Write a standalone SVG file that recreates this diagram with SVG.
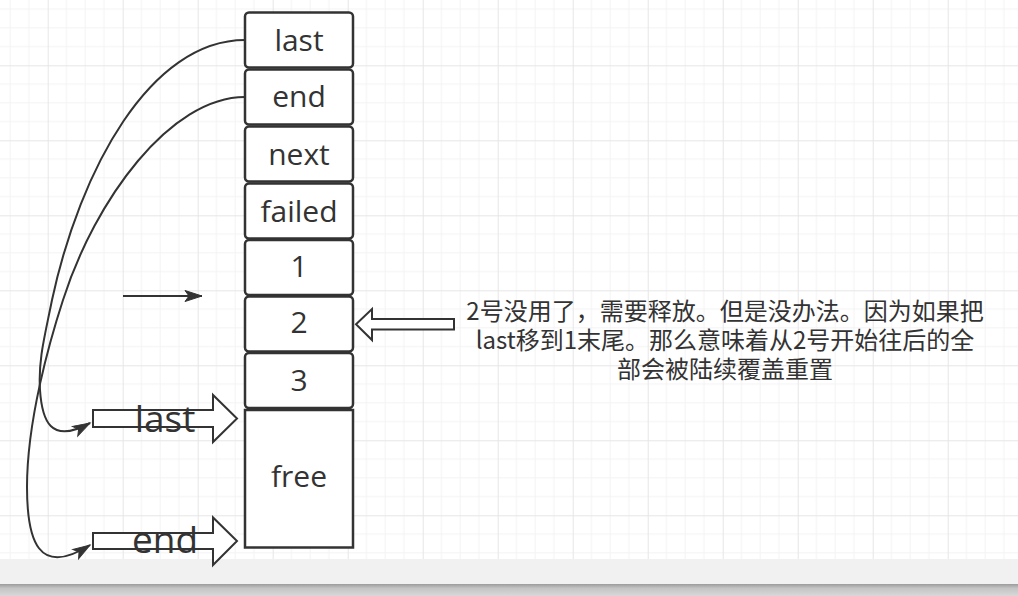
<svg xmlns="http://www.w3.org/2000/svg" width="1018" height="596" viewBox="0 0 1018 596">
  <defs>
    <pattern id="grid" x="47.7" y="65.3" width="75" height="75" patternUnits="userSpaceOnUse">
      <rect width="75" height="75" fill="#ffffff"/>
      <rect x="18.25" y="0" width="1" height="75" fill="#f3f3f3"/>
      <rect x="37" y="0" width="1" height="75" fill="#f3f3f3"/>
      <rect x="55.75" y="0" width="1" height="75" fill="#f3f3f3"/>
      <rect x="0" y="18.25" width="75" height="1" fill="#f3f3f3"/>
      <rect x="0" y="37" width="75" height="1" fill="#f3f3f3"/>
      <rect x="0" y="55.75" width="75" height="1" fill="#f3f3f3"/>
      <rect x="0" y="0" width="1" height="75" fill="#e6e6e6"/>
      <rect x="0" y="0" width="75" height="1" fill="#e6e6e6"/>
    </pattern>
    <linearGradient id="shade" x1="0" y1="0" x2="0" y2="1">
      <stop offset="0" stop-color="#9c9c9c"/>
      <stop offset="0.35" stop-color="#c4c4c4"/>
      <stop offset="1" stop-color="#d8d8d8"/>
    </linearGradient>
    <marker id="arrow" markerUnits="userSpaceOnUse" markerWidth="20" markerHeight="12" refX="17" refY="5.5" orient="auto" overflow="visible">
      <path d="M0,0 L17,5.5 L0,11 L4,5.5 Z" fill="#333333" stroke="#333333" stroke-width="1"/>
    </marker>
    <style>
      .box { fill: #ffffff; stroke: #333333; stroke-width: 2.5; }
      .lbl { font-family: "Open Sans", "Noto Sans", sans-serif; font-size: 30px; fill: #333333; text-anchor: middle; }
      .big { font-family: "Open Sans", "Noto Sans", sans-serif; font-size: 37px; fill: #333333; text-anchor: middle; }
      .note { font-family: "Noto Sans CJK SC", "Noto Sans", sans-serif; font-size: 24px; fill: #333333; text-anchor: middle; }
      .blk { fill: #ffffff; stroke: #333333; stroke-width: 2; stroke-linejoin: miter; }
      .edge { fill: none; stroke: #333333; stroke-width: 2; }
    </style>
  </defs>

  <rect x="0" y="0" width="1018" height="559" fill="url(#grid)"/>
  <rect x="0" y="559" width="1018" height="25" fill="#f1f1f1"/>
  <rect x="0" y="584" width="1018" height="12" fill="url(#shade)"/>

  <g id="connectors">
    <path class="edge" d="M245,40 C150,40 80,170 52,300 C45,335 38,360 40,390 C42,420 50,445 90,423" marker-end="url(#arrow)"/>
    <path class="edge" d="M245,97 C170,97 95,200 63,300 C50,340 27,420 27,487 C27,540 38,578 90,545" marker-end="url(#arrow)"/>
    <path class="edge" d="M123,296 L202,296" marker-end="url(#arrow)"/>
  </g>

  <g id="node-last">
    <rect class="box" x="245" y="12.5" width="108" height="55" rx="4"/>
    <text class="lbl" x="299" y="50.7">last</text>
  </g>
  <g id="node-end">
    <rect class="box" x="245" y="69.5" width="108" height="55" rx="4"/>
    <text class="lbl" x="299" y="106.7">end</text>
  </g>
  <g id="node-next">
    <rect class="box" x="245" y="126.5" width="108" height="55" rx="4"/>
    <text class="lbl" x="299" y="165">next</text>
  </g>
  <g id="node-failed">
    <rect class="box" x="245" y="183.5" width="108" height="55" rx="4"/>
    <text class="lbl" x="299" y="221.7">failed</text>
  </g>
  <g id="node-1">
    <rect class="box" x="245" y="240" width="108" height="55" rx="4"/>
    <text class="lbl" x="299" y="277.3">1</text>
  </g>
  <g id="node-2">
    <rect class="box" x="245" y="296.5" width="108" height="55" rx="4"/>
    <text class="lbl" x="299" y="333.3">2</text>
  </g>
  <g id="node-3">
    <rect class="box" x="245" y="353" width="108" height="55" rx="4"/>
    <text class="lbl" x="299" y="391">3</text>
  </g>
  <g id="node-free">
    <rect class="box" x="245" y="410" width="108" height="137.5"/>
    <text class="lbl" x="299" y="486.7">free</text>
  </g>

  <g id="arrow-last">
    <polygon class="blk" points="93,410 213,410 213,395 237,418.5 213,442 213,427 93,427"/>
    <text class="big" x="165" y="431.7">last</text>
  </g>
  <g id="arrow-end">
    <polygon class="blk" points="93,533 213,533 213,517.5 237,541 213,565 213,549 93,549"/>
    <text class="big" x="165" y="553.3">end</text>
  </g>
  <g id="arrow-2">
    <polygon class="blk" points="454,319 372,319 372,309 356,324.3 372,340 372,329.5 454,329.5"/>
  </g>

  <g id="note">
    <text class="note" x="725" y="320">2号没用了，需要释放。但是没办法。因为如果把</text>
    <text class="note" x="725" y="349">last移到1末尾。那么意味着从2号开始往后的全</text>
    <text class="note" x="725" y="378">部会被陆续覆盖重置</text>
  </g>
</svg>
